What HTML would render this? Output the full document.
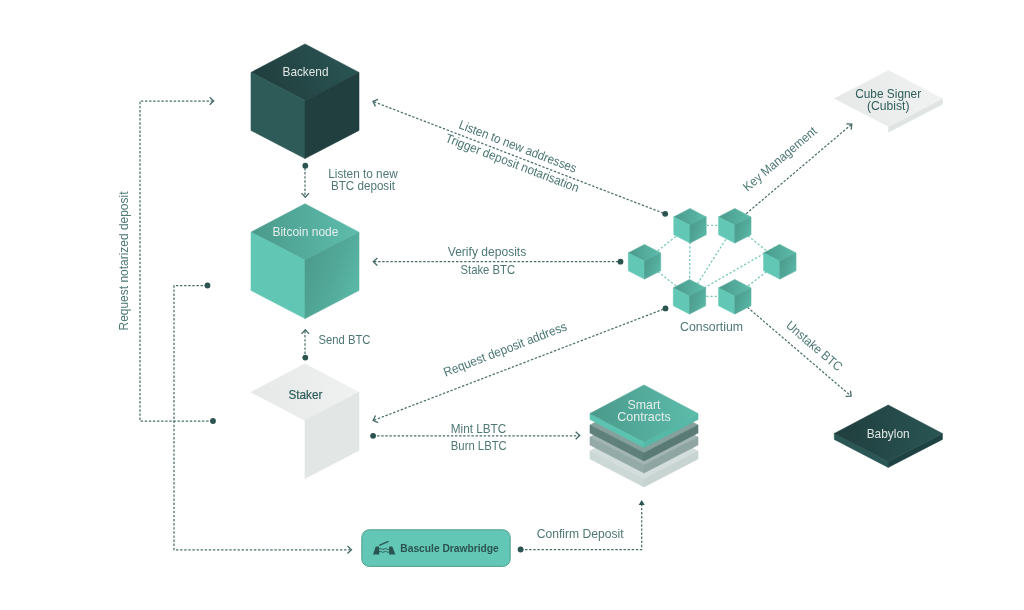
<!DOCTYPE html>
<html><head><meta charset="utf-8">
<style>
html,body{margin:0;padding:0;background:#fff;width:1024px;height:610px;overflow:hidden}
svg{display:block;will-change:transform}
text{font-family:"Liberation Sans",sans-serif}
.lbl{fill:#4d7874;font-size:12.7px}
.ln{stroke:#4a6f6b;stroke-width:1.25;stroke-dasharray:2.4 1.7;fill:none}
.lt{stroke:#7ccbbd;stroke-width:1.35;stroke-dasharray:2.2 2;fill:none}
.ah{stroke:#456b67;stroke-width:1.3;fill:none;stroke-linecap:butt;stroke-linejoin:miter}
.dot{fill:#2b5451}
</style></head>
<body>
<svg width="1024" height="610" viewBox="0 0 1024 610">
<defs>
  <linearGradient id="bbTop" x1="0" y1="0.5" x2="1" y2="0.5">
    <stop offset="0" stop-color="#203e3e"/><stop offset="1" stop-color="#295553"/>
  </linearGradient>
  <linearGradient id="bkTop" x1="0" y1="0.6" x2="1" y2="0.3">
    <stop offset="0" stop-color="#203d3d"/><stop offset="1" stop-color="#2a5654"/>
  </linearGradient>
  <linearGradient id="btTop" x1="0" y1="0" x2="1" y2="0">
    <stop offset="0" stop-color="#4a9a8b"/><stop offset="1" stop-color="#5ebdac"/>
  </linearGradient>
  <linearGradient id="btRight" x1="0" y1="0.1" x2="1" y2="0.7">
    <stop offset="0" stop-color="#4a998a"/><stop offset="0.55" stop-color="#52a898"/><stop offset="1" stop-color="#5bb9a7"/>
  </linearGradient>
  <linearGradient id="scTop" x1="0" y1="0" x2="1" y2="0">
    <stop offset="0" stop-color="#4a9a8b"/><stop offset="1" stop-color="#5dbcab"/>
  </linearGradient>
  <linearGradient id="stTop" x1="0" y1="0" x2="1" y2="0">
    <stop offset="0" stop-color="#e5e8e7"/><stop offset="1" stop-color="#f0f2f1"/>
  </linearGradient>
  <linearGradient id="csTop" x1="0" y1="0" x2="1" y2="0">
    <stop offset="0" stop-color="#e5e8e7"/><stop offset="1" stop-color="#f1f3f2"/>
  </linearGradient>
</defs>

<!-- ===== connector lines ===== -->
<!-- left loop 1 -->
<polyline class="ln" points="213,101 140,101 140,421 211,421"/>
<path class="ah" d="M209.68,97.35 L213.70,101.10 L209.68,104.85"/>
<circle class="dot" cx="213" cy="421" r="2.9"/>
<!-- left loop 2 -->
<polyline class="ln" points="207,285.5 174,285.5 174,549.8 350,549.8"/>
<circle class="dot" cx="207.5" cy="285.5" r="2.9"/>
<path class="ah" d="M347.48,546.05 L351.50,549.80 L347.48,553.55"/>

<!-- backend -> bitcoin -->
<line class="ln" x1="305" y1="168" x2="305" y2="196"/>
<circle class="dot" cx="305.3" cy="165.7" r="2.9"/>
<path class="ah" d="M309.05,193.18 L305.30,197.20 L301.55,193.18"/>
<!-- staker -> bitcoin -->
<line class="ln" x1="305" y1="331" x2="305" y2="356"/>
<circle class="dot" cx="305.3" cy="357.6" r="2.9"/>
<path class="ah" d="M301.55,333.82 L305.30,329.80 L309.05,333.82"/>

<!-- listen to new addresses -->
<line class="ln" x1="374" y1="101.8" x2="665" y2="213.8"/>
<circle class="dot" cx="665.2" cy="213.8" r="2.9"/>
<path class="ah" d="M375.41,106.35 L373.00,101.40 L378.10,99.34"/>
<!-- verify deposits -->
<line class="ln" x1="374" y1="261.7" x2="620" y2="261.7"/>
<circle class="dot" cx="620.5" cy="261.7" r="2.9"/>
<path class="ah" d="M377.32,265.45 L373.30,261.70 L377.32,257.95"/>
<!-- request deposit address -->
<line class="ln" x1="374" y1="420.2" x2="665.5" y2="308.4"/>
<circle class="dot" cx="665.5" cy="308.4" r="2.9"/>
<path class="ah" d="M378.20,422.56 L373.10,420.50 L375.51,415.56"/>
<!-- mint lbtc -->
<line class="ln" x1="373" y1="435.8" x2="579" y2="435.8"/>
<circle class="dot" cx="373.1" cy="435.8" r="2.9"/>
<path class="ah" d="M575.68,431.85 L579.70,435.60 L575.68,439.35"/>
<!-- confirm deposit -->
<polyline class="ln" points="521,549.5 641.7,549.5 641.7,504"/>
<circle class="dot" cx="520.6" cy="549.5" r="2.9"/>
<path fill="#2b5451" d="M641.7,500 L644.7,505 L638.7,505 Z"/>
<!-- key management -->
<line class="ln" x1="746.2" y1="213.7" x2="851" y2="124.8"/>
<path class="ah" d="M846.31,123.84 L851.80,124.10 L851.16,129.56"/>
<!-- unstake -->
<line class="ln" x1="747.5" y1="307.3" x2="850.5" y2="395.6"/>
<path class="ah" d="M850.49,390.73 L851.10,396.20 L845.60,396.43"/>

<!-- consortium light lines -->
<line class="lt" x1="690" y1="225.3" x2="734.8" y2="225.3"/>
<line class="lt" x1="644.5" y1="261.3" x2="690" y2="225.3"/>
<line class="lt" x1="690" y1="225.3" x2="689.5" y2="296.3"/>
<line class="lt" x1="734.8" y1="225.3" x2="689.5" y2="296.3"/>
<line class="lt" x1="734.8" y1="225.3" x2="779.8" y2="261.3"/>
<line class="lt" x1="644.5" y1="261.3" x2="689.5" y2="296.3"/>
<line class="lt" x1="734.8" y1="296.3" x2="779.8" y2="261.3"/>
<line class="lt" x1="689.5" y1="296.3" x2="734.8" y2="296.3"/>
<line class="lt" x1="689.5" y1="296.3" x2="779.8" y2="244.5"/>

<!-- ===== Backend cube ===== -->
<polygon fill="url(#bkTop)" stroke="url(#bkTop)" stroke-width="0.6" stroke-linejoin="round" points="305,44 359,72.4 305,100.4 251,72.4"/>
<polygon fill="#2e5b58" stroke="#2e5b58" stroke-width="0.6" stroke-linejoin="round" points="251,72.4 305,100.4 305,158.5 251,130.4"/>
<polygon fill="#223f3f" stroke="#223f3f" stroke-width="0.6" stroke-linejoin="round" points="359,72.4 305,100.4 305,158.5 359,130.4"/>
<text x="305.5" y="75.7" text-anchor="middle" fill="#dfe7e5" font-size="12.4" textLength="46" lengthAdjust="spacingAndGlyphs">Backend</text>

<!-- ===== Bitcoin node cube ===== -->
<polygon fill="url(#btTop)" stroke="url(#btTop)" stroke-width="0.6" stroke-linejoin="round" points="305,203.8 359,232.2 305,260.2 251,232.2"/>
<polygon fill="#62c6b4" stroke="#62c6b4" stroke-width="0.6" stroke-linejoin="round" points="251,232.2 305,260.2 305,318.6 251,290.4"/>
<polygon fill="url(#btRight)" stroke="url(#btRight)" stroke-width="0.6" stroke-linejoin="round" points="359,232.2 305,260.2 305,318.6 359,290.4"/>
<text x="305.4" y="236.4" text-anchor="middle" fill="#e3efec" font-size="12.4" textLength="66" lengthAdjust="spacingAndGlyphs">Bitcoin node</text>

<!-- ===== Staker ===== -->
<polygon fill="url(#stTop)" stroke="url(#stTop)" stroke-width="0.6" stroke-linejoin="round" points="305,363.8 359,392.2 305,420.4 251,392.2"/>
<polygon fill="#e2e6e5" stroke="#e2e6e5" stroke-width="0.6" stroke-linejoin="round" points="359,392.2 305,420.4 305,478.6 359,450.4"/>
<text x="305.4" y="398.9" text-anchor="middle" fill="#2d5d59" stroke="#2d5d59" stroke-width="0.2" font-size="12.6" textLength="34" lengthAdjust="spacingAndGlyphs">Staker</text>

<!-- ===== Consortium cubes ===== -->
<g>
<polygon fill="url(#scTop)" stroke="url(#scTop)" stroke-width="0.6" stroke-linejoin="round" points="690,208.5 706.2,216.9 690,225.3 673.8,216.9"/><polygon fill="#62c7b5" stroke="#62c7b5" stroke-width="0.6" stroke-linejoin="round" points="673.8,216.9 690,225.3 690,243.1 673.8,234.7"/><polygon fill="url(#btRight)" stroke="url(#btRight)" stroke-width="0.6" stroke-linejoin="round" points="706.2,216.9 690,225.3 690,243.1 706.2,234.7"/>
<polygon fill="url(#scTop)" stroke="url(#scTop)" stroke-width="0.6" stroke-linejoin="round" points="734.8,208.5 751,216.9 734.8,225.3 718.6,216.9"/><polygon fill="#62c7b5" stroke="#62c7b5" stroke-width="0.6" stroke-linejoin="round" points="718.6,216.9 734.8,225.3 734.8,243.1 718.6,234.7"/><polygon fill="url(#btRight)" stroke="url(#btRight)" stroke-width="0.6" stroke-linejoin="round" points="751,216.9 734.8,225.3 734.8,243.1 751,234.7"/>
<polygon fill="url(#scTop)" stroke="url(#scTop)" stroke-width="0.6" stroke-linejoin="round" points="644.5,244.5 660.7,252.9 644.5,261.3 628.3,252.9"/><polygon fill="#62c7b5" stroke="#62c7b5" stroke-width="0.6" stroke-linejoin="round" points="628.3,252.9 644.5,261.3 644.5,279.1 628.3,270.7"/><polygon fill="url(#btRight)" stroke="url(#btRight)" stroke-width="0.6" stroke-linejoin="round" points="660.7,252.9 644.5,261.3 644.5,279.1 660.7,270.7"/>
<polygon fill="url(#scTop)" stroke="url(#scTop)" stroke-width="0.6" stroke-linejoin="round" points="779.8,244.5 796,252.9 779.8,261.3 763.6,252.9"/><polygon fill="#62c7b5" stroke="#62c7b5" stroke-width="0.6" stroke-linejoin="round" points="763.6,252.9 779.8,261.3 779.8,279.1 763.6,270.7"/><polygon fill="url(#btRight)" stroke="url(#btRight)" stroke-width="0.6" stroke-linejoin="round" points="796,252.9 779.8,261.3 779.8,279.1 796,270.7"/>
<polygon fill="url(#scTop)" stroke="url(#scTop)" stroke-width="0.6" stroke-linejoin="round" points="689.5,279.5 705.7,287.9 689.5,296.3 673.3,287.9"/><polygon fill="#62c7b5" stroke="#62c7b5" stroke-width="0.6" stroke-linejoin="round" points="673.3,287.9 689.5,296.3 689.5,314.1 673.3,305.7"/><polygon fill="url(#btRight)" stroke="url(#btRight)" stroke-width="0.6" stroke-linejoin="round" points="705.7,287.9 689.5,296.3 689.5,314.1 705.7,305.7"/>
<polygon fill="url(#scTop)" stroke="url(#scTop)" stroke-width="0.6" stroke-linejoin="round" points="734.8,279.5 751,287.9 734.8,296.3 718.6,287.9"/><polygon fill="#62c7b5" stroke="#62c7b5" stroke-width="0.6" stroke-linejoin="round" points="718.6,287.9 734.8,296.3 734.8,314.1 718.6,305.7"/><polygon fill="url(#btRight)" stroke="url(#btRight)" stroke-width="0.6" stroke-linejoin="round" points="751,287.9 734.8,296.3 734.8,314.1 751,305.7"/>
</g>

<!-- ===== Cube Signer slab ===== -->
<polygon fill="#e0e5e4" stroke="#e0e5e4" stroke-width="0.6" stroke-linejoin="round" points="942.5,98.5 888.5,126.5 888.5,132.2 942.5,104.2"/>
<polygon fill="url(#csTop)" stroke="url(#csTop)" stroke-width="0.6" stroke-linejoin="round" points="888.5,70.5 942.5,98.5 888.5,126.5 834.5,98.5"/>
<text x="888.2" y="97.6" text-anchor="middle" fill="#2d5d59" font-size="11.9" textLength="66" lengthAdjust="spacingAndGlyphs">Cube Signer</text>
<text x="888.2" y="109.6" text-anchor="middle" fill="#2d5d59" font-size="11.9" textLength="42.5" lengthAdjust="spacingAndGlyphs">(Cubist)</text>

<!-- ===== Babylon slab ===== -->
<polygon fill="#2a5755" stroke="#2a5755" stroke-width="0.6" stroke-linejoin="round" points="834.3,433.5 888.2,461.5 888.2,467.4 834.3,439.4"/>
<polygon fill="#1e4241" stroke="#1e4241" stroke-width="0.6" stroke-linejoin="round" points="942.4,433.5 888.2,461.5 888.2,467.4 942.4,439.4"/>
<polygon fill="url(#bbTop)" stroke="url(#bbTop)" stroke-width="0.6" stroke-linejoin="round" points="888.2,405 942.4,433.5 888.2,461.5 834.3,433.5"/>
<text x="888.2" y="437.9" text-anchor="middle" fill="#dfe7e5" font-size="12.4" textLength="43" lengthAdjust="spacingAndGlyphs">Babylon</text>

<!-- ===== Smart Contracts stack ===== -->
<g>
  <!-- layer 4 -->
  <polygon fill="#d3dedc" stroke="#d3dedc" stroke-width="0.6" stroke-linejoin="round" points="644,423 698,451 644,479 590,451"/>
  <polygon fill="#ccd8d6" stroke="#ccd8d6" stroke-width="0.6" stroke-linejoin="round" points="590,451 644,479 644,487 590,459"/>
  <polygon fill="#c8d4d2" stroke="#c8d4d2" stroke-width="0.6" stroke-linejoin="round" points="698,451 644,479 644,487 698,459"/>
  <!-- layer 3 -->
  <polygon fill="#a3b6b3" stroke="#a3b6b3" stroke-width="0.6" stroke-linejoin="round" points="644,409 698,437 644,465 590,437"/>
  <polygon fill="#94aaa7" stroke="#94aaa7" stroke-width="0.6" stroke-linejoin="round" points="590,437 644,465 644,473 590,445"/>
  <polygon fill="#8fa5a2" stroke="#8fa5a2" stroke-width="0.6" stroke-linejoin="round" points="698,437 644,465 644,473 698,445"/>
  <!-- layer 2 -->
  <polygon fill="#85a09d" stroke="#85a09d" stroke-width="0.6" stroke-linejoin="round" points="644,397 698,425 644,453 590,425"/>
  <polygon fill="#5f807b" stroke="#5f807b" stroke-width="0.6" stroke-linejoin="round" points="590,425 644,453 644,461 590,433"/>
  <polygon fill="#5a7a75" stroke="#5a7a75" stroke-width="0.6" stroke-linejoin="round" points="698,425 644,453 644,461 698,433"/>
  <!-- top slab -->
  <polygon fill="#5cc3b0" stroke="#5cc3b0" stroke-width="0.6" stroke-linejoin="round" points="590,413.5 644,441.5 644,447.5 590,419.5"/>
  <polygon fill="#56b8a6" stroke="#56b8a6" stroke-width="0.6" stroke-linejoin="round" points="698,413.5 644,441.5 644,447.5 698,419.5"/>
  <polygon fill="url(#scTop)" stroke="url(#scTop)" stroke-width="0.6" stroke-linejoin="round" points="644,385 698,413.5 644,441.5 590,413.5"/>
</g>
<text x="644" y="409.2" text-anchor="middle" fill="#e3efec" font-size="12.4" textLength="33" lengthAdjust="spacingAndGlyphs">Smart</text>
<text x="644" y="420.5" text-anchor="middle" fill="#e3efec" font-size="12.4" textLength="53.5" lengthAdjust="spacingAndGlyphs">Contracts</text>

<!-- ===== Bascule Drawbridge ===== -->
<rect x="361.8" y="529.8" width="148.4" height="36.6" rx="7.5" ry="7.5" fill="#62c7b5" stroke="#4f9e90" stroke-width="1"/>
<g fill="#2b5451">
  <path d="M375.8,546.6 L379,546.6 L379.2,554.6 L373,554.6 Z"/>
  <path d="M389.2,546.6 L392.3,546.6 L395.4,554.6 L389.1,554.6 Z"/>
  <path d="M379.3,545.4 L388.4,541.4" stroke="#2b5451" stroke-width="1.2" fill="none"/>
  <path d="M379,549 q1.3,-1 2.6,0 t2.6,0 t2.6,0 t2.6,0" stroke="#2b5451" stroke-width="0.9" fill="none"/>
  <path d="M379,551.8 q1.3,-1 2.6,0 t2.6,0 t2.6,0 t2.6,0" stroke="#2b5451" stroke-width="0.9" fill="none"/>
</g>
<text x="400.3" y="552.4" fill="#2b5451" font-size="11.4" font-weight="bold" textLength="98.5" lengthAdjust="spacingAndGlyphs">Bascule Drawbridge</text>

<!-- ===== labels ===== -->
<text class="lbl" x="363" y="178" text-anchor="middle" textLength="69.5" lengthAdjust="spacingAndGlyphs">Listen to new</text>
<text class="lbl" x="363" y="189.6" text-anchor="middle" textLength="64" lengthAdjust="spacingAndGlyphs">BTC deposit</text>
<text class="lbl" x="318.5" y="343.5" textLength="52" lengthAdjust="spacingAndGlyphs">Send BTC</text>
<text class="lbl" x="487" y="256.4" text-anchor="middle" textLength="78.5" lengthAdjust="spacingAndGlyphs">Verify deposits</text>
<text class="lbl" x="487.8" y="273.6" text-anchor="middle" textLength="54.5" lengthAdjust="spacingAndGlyphs">Stake BTC</text>
<text class="lbl" x="478.5" y="432.5" text-anchor="middle" textLength="55.5" lengthAdjust="spacingAndGlyphs">Mint LBTC</text>
<text class="lbl" x="478.8" y="449.7" text-anchor="middle" textLength="56" lengthAdjust="spacingAndGlyphs">Burn LBTC</text>
<text class="lbl" x="580.2" y="538.1" text-anchor="middle" textLength="87" lengthAdjust="spacingAndGlyphs">Confirm Deposit</text>
<text class="lbl" x="711.6" y="330.6" text-anchor="middle" textLength="63" lengthAdjust="spacingAndGlyphs">Consortium</text>

<g transform="translate(519,157.6) rotate(21)">
  <text class="lbl" x="-5" y="-5.7" text-anchor="middle" textLength="125" lengthAdjust="spacingAndGlyphs">Listen to new addresses</text>
  <text class="lbl" x="-4.4" y="11.6" text-anchor="middle" textLength="142" lengthAdjust="spacingAndGlyphs">Trigger deposit notarisation</text>
</g>
<g transform="translate(519.25,364.45) rotate(-21)">
  <text class="lbl" x="-7.8" y="-15" text-anchor="middle" textLength="131" lengthAdjust="spacingAndGlyphs">Request deposit address</text>
</g>
<g transform="translate(799,168.9) rotate(-40.3)">
  <text class="lbl" x="-8.2" y="-15.8" text-anchor="middle" textLength="92" lengthAdjust="spacingAndGlyphs">Key Management</text>
</g>
<g transform="translate(799.3,351.75) rotate(40.6)">
  <text class="lbl" x="7.6" y="-9.9" text-anchor="middle" textLength="69.5" lengthAdjust="spacingAndGlyphs">Unstake BTC</text>
</g>
<g transform="translate(128.3,261) rotate(-90)">
  <text class="lbl" x="0" y="0" text-anchor="middle" textLength="139" lengthAdjust="spacingAndGlyphs">Request notarized deposit</text>
</g>
</svg>
</body></html>
